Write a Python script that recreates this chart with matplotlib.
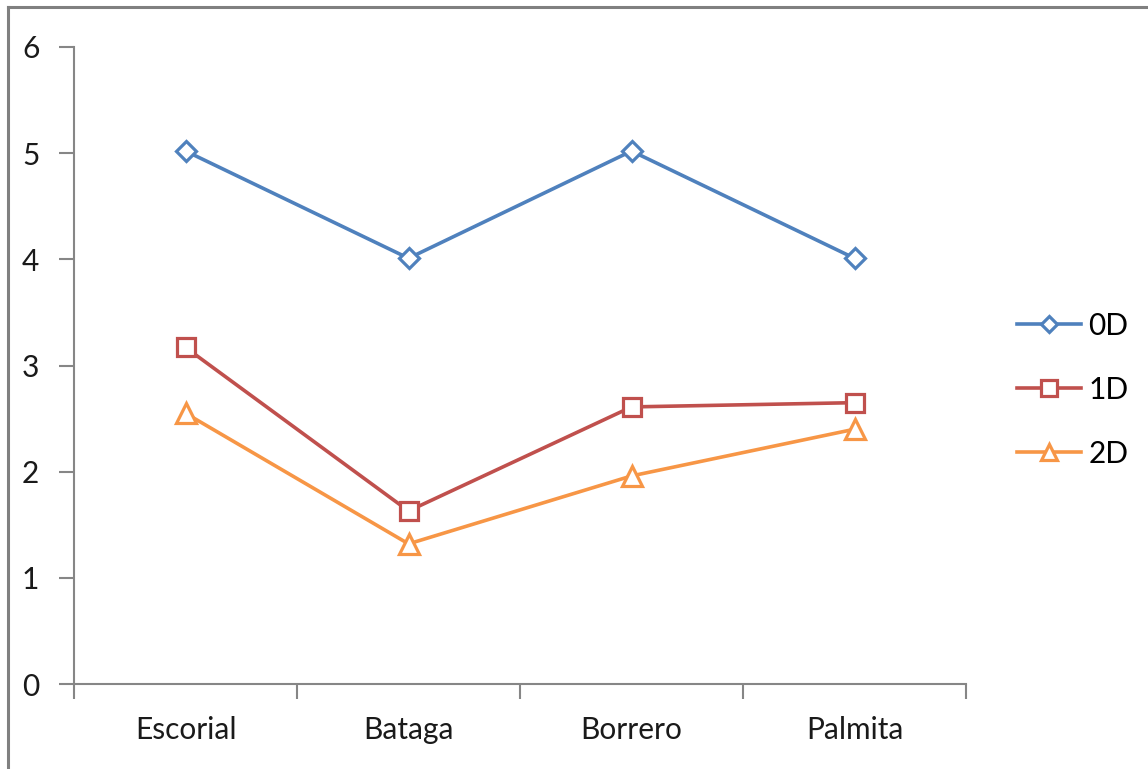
import numpy as np
import matplotlib.pyplot as plt
from matplotlib.lines import Line2D

sites = ['Escorial', 'Bataga', 'Borrero', 'Palmita']
d0 = [5.02, 4.01, 5.02, 4.01]
d1 = [3.17, 1.63, 2.61, 2.65]
d2 = [2.55, 1.32, 1.96, 2.40]

plt.rcParams['font.family'] = ['Lato', 'DejaVu Sans']

fig = plt.figure(figsize=(11.48, 7.69), dpi=100)
ax = fig.add_axes([0.0645, 0.1105, 0.777, 0.8284])

x = np.arange(len(sites))
series = [
    ('0D', d0, '#4F81BD', 'D', 10),
    ('1D', d1, '#C0504D', 's', 13),
    ('2D', d2, '#F79646', '^', 14),
]
for name, vals, col, mk, ms in series:
    ax.plot(x, vals, color=col, lw=2.6, marker=mk, ms=ms, mfc='white',
            mec=col, mew=2.3, label=name, zorder=3)

ax.set_xlim(-0.5, len(sites) - 0.5)
ax.set_ylim(0, 6)
ax.set_yticks(range(7))
ax.set_xticks(x)
ax.set_xticklabels(sites)
ax.set_xticks(np.arange(-0.5, len(sites)), minor=True)
ax.tick_params(axis='x', which='major', length=0, pad=23, labelsize=21.5, colors='#1a1a1a')
ax.tick_params(axis='x', which='minor', length=11, width=1.5, color='#868686', direction='out')
ax.tick_params(axis='y', length=11, width=1.5, color='#868686', pad=14, labelsize=21.5,
               labelcolor='#1a1a1a')

for s in ['top', 'right']:
    ax.spines[s].set_visible(False)
for s in ['left', 'bottom']:
    ax.spines[s].set_color('#868686')
    ax.spines[s].set_linewidth(1.5)

leg = ax.legend(loc='center left', bbox_to_anchor=(1.057, 0.462), frameon=False,
                fontsize=21.5, handlelength=2.15, labelspacing=1.2, handletextpad=0.25,
                borderaxespad=0, borderpad=0, markerscale=0.85)

# outer chart frame (top and left edges visible)
fig.add_artist(Line2D([0.007, 1.0], [0.991, 0.991], transform=fig.transFigure,
                      color='#808080', lw=2.2))
fig.add_artist(Line2D([0.007, 0.007], [0.0, 0.991], transform=fig.transFigure,
                      color='#808080', lw=2.2))

fig.savefig('out.png', dpi=100, facecolor='white')
